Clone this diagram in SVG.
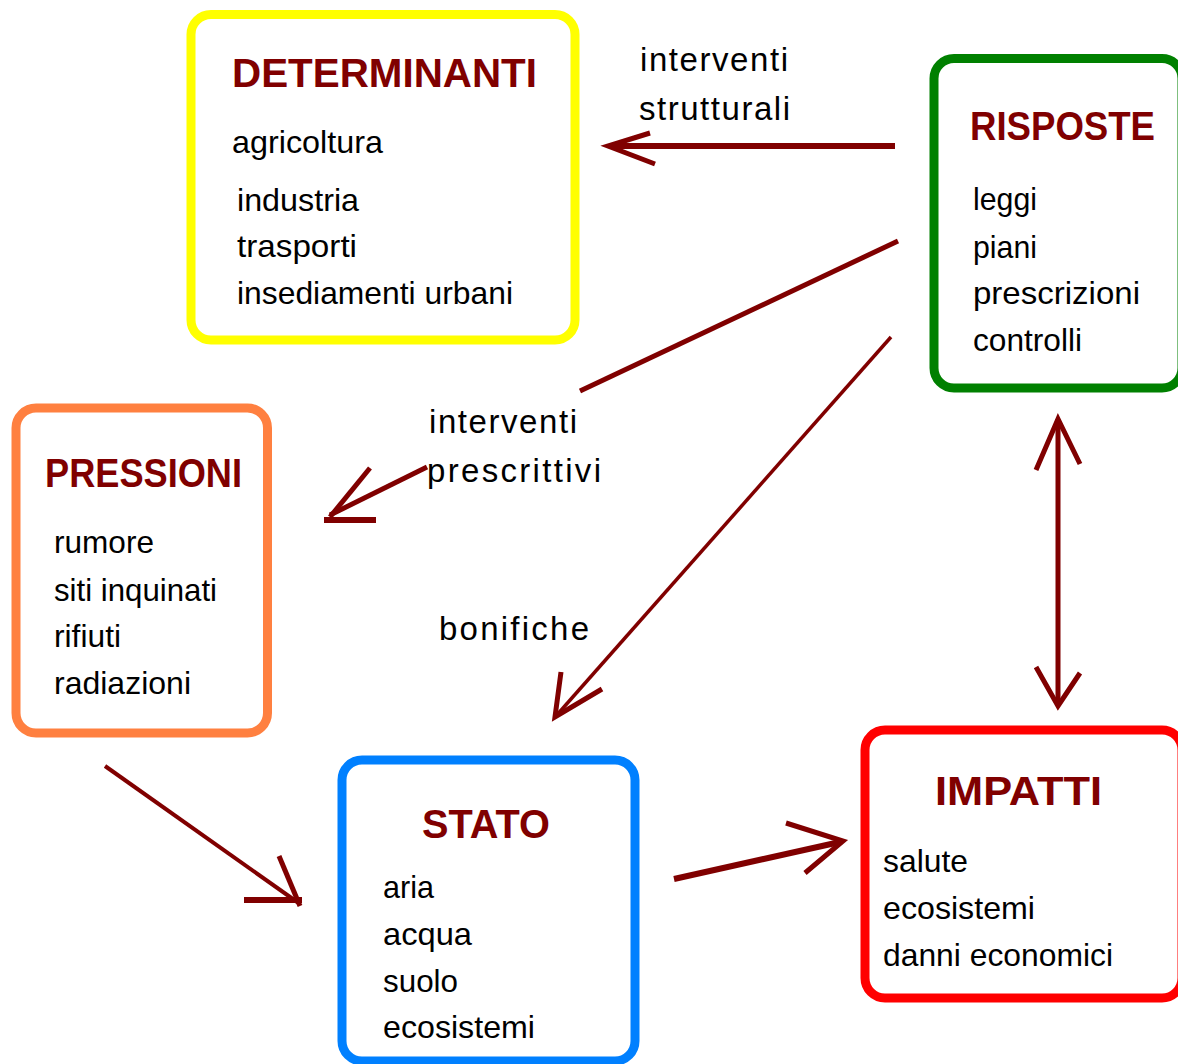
<svg xmlns="http://www.w3.org/2000/svg" width="1178" height="1064" viewBox="0 0 1178 1064">
  <style>
    .box { fill: #ffffff; stroke-width: 9; }
    .title { font-family: "Liberation Sans", Arial, sans-serif; font-weight: bold; font-size: 40px; fill: #800000; }
    .item { font-family: "Liberation Sans", Arial, sans-serif; font-size: 32px; fill: #000000; }
    .label { font-family: "Liberation Sans", Arial, sans-serif; font-size: 33px; fill: #000000; }
    .arrow { fill: none; stroke: #800000; stroke-linecap: butt; stroke-linejoin: miter; }
  </style>
  <rect width="1178" height="1064" fill="#ffffff"/>

  <!-- connectors -->
  <g id="connectors">
    <!-- RISPOSTE -> DETERMINANTI -->
    <g id="arrow-risposte-determinanti">
      <line class="arrow" stroke-width="6" x1="895" y1="146" x2="612" y2="146"/>
      <polyline class="arrow" stroke-width="5" points="650,133 608,146 655,164"/>
    </g>
    <!-- RISPOSTE -> PRESSIONI (interrupted by its label) -->
    <g id="arrow-risposte-pressioni">
      <line class="arrow" stroke-width="5" x1="898" y1="241" x2="580" y2="391"/>
      <line class="arrow" stroke-width="5" x1="427" y1="467" x2="330" y2="515"/>
      <line class="arrow" stroke-width="6" x1="324" y1="520" x2="376" y2="520"/>
      <line class="arrow" stroke-width="5" x1="370" y1="468" x2="330" y2="517"/>
    </g>
    <!-- RISPOSTE -> STATO -->
    <g id="arrow-risposte-stato">
      <line class="arrow" stroke-width="3.5" x1="891" y1="337" x2="556" y2="716"/>
      <polyline class="arrow" stroke-width="5" points="561,672 555,717 602,689"/>
    </g>
    <!-- RISPOSTE <-> IMPATTI -->
    <g id="arrow-risposte-impatti">
      <line class="arrow" stroke-width="5" x1="1058" y1="419" x2="1058" y2="706"/>
      <polyline class="arrow" stroke-width="5" points="1036,470 1058,419 1080,464"/>
      <polyline class="arrow" stroke-width="5" points="1036,667 1058,706 1080,673"/>
    </g>
    <!-- PRESSIONI -> STATO -->
    <g id="arrow-pressioni-stato">
      <line class="arrow" stroke-width="4" x1="105" y1="766" x2="300" y2="904"/>
      <line class="arrow" stroke-width="6" x1="244" y1="900" x2="302" y2="900"/>
      <line class="arrow" stroke-width="5" x1="279" y1="856" x2="300" y2="906"/>
    </g>
    <!-- STATO -> IMPATTI -->
    <g id="arrow-stato-impatti">
      <line class="arrow" stroke-width="6" x1="674" y1="879" x2="840" y2="842"/>
      <polyline class="arrow" stroke-width="5" points="786,823 843,841 805,873"/>
    </g>
  </g>

  <!-- connector labels -->
  <g id="labels">
    <text class="label" x="640" y="71" textLength="148" lengthAdjust="spacing">interventi</text>
    <text class="label" x="639" y="120" textLength="151" lengthAdjust="spacing">strutturali</text>
    <text class="label" x="429" y="433" textLength="148" lengthAdjust="spacing">interventi</text>
    <text class="label" x="427" y="482" textLength="174" lengthAdjust="spacing">prescrittivi</text>
    <text class="label" x="439" y="640" textLength="150" lengthAdjust="spacing">bonifiche</text>
  </g>

  <!-- nodes -->
  <g id="determinanti">
    <rect class="box" stroke="#ffff00" x="191" y="14.5" width="384" height="325.5" rx="20" ry="20"/>
    <text class="title" x="232" y="87" font-size="42" textLength="305" lengthAdjust="spacingAndGlyphs">DETERMINANTI</text>
    <text class="item" x="232" y="153" textLength="151" lengthAdjust="spacingAndGlyphs">agricoltura</text>
    <text class="item" x="237" y="211" textLength="122" lengthAdjust="spacingAndGlyphs">industria</text>
    <text class="item" x="237" y="257" textLength="120" lengthAdjust="spacingAndGlyphs">trasporti</text>
    <text class="item" x="237" y="304" textLength="276" lengthAdjust="spacingAndGlyphs">insediamenti urbani</text>
  </g>

  <g id="risposte">
    <rect class="box" stroke="#008000" x="934" y="58.5" width="248" height="329.5" rx="20" ry="20"/>
    <text class="title" x="970" y="140" font-size="39" textLength="185" lengthAdjust="spacingAndGlyphs">RISPOSTE</text>
    <text class="item" x="973" y="210" textLength="64" lengthAdjust="spacingAndGlyphs">leggi</text>
    <text class="item" x="973" y="258" textLength="64" lengthAdjust="spacingAndGlyphs">piani</text>
    <text class="item" x="973" y="304" textLength="167" lengthAdjust="spacingAndGlyphs">prescrizioni</text>
    <text class="item" x="973" y="351" textLength="109" lengthAdjust="spacingAndGlyphs">controlli</text>
  </g>

  <g id="pressioni">
    <rect class="box" stroke="#ff8040" x="16" y="408" width="251.5" height="325" rx="20" ry="20"/>
    <text class="title" x="45" y="487" font-size="38" textLength="197" lengthAdjust="spacingAndGlyphs">PRESSIONI</text>
    <text class="item" x="54" y="553" textLength="100" lengthAdjust="spacingAndGlyphs">rumore</text>
    <text class="item" x="54" y="601" textLength="163" lengthAdjust="spacingAndGlyphs">siti inquinati</text>
    <text class="item" x="54" y="647" textLength="67" lengthAdjust="spacingAndGlyphs">rifiuti</text>
    <text class="item" x="54" y="694" textLength="137" lengthAdjust="spacingAndGlyphs">radiazioni</text>
  </g>

  <g id="stato">
    <rect class="box" stroke="#0080ff" x="342" y="760" width="293" height="301" rx="20" ry="20"/>
    <text class="title" x="422" y="838" font-size="40" textLength="128" lengthAdjust="spacingAndGlyphs">STATO</text>
    <text class="item" x="383" y="898" textLength="51" lengthAdjust="spacingAndGlyphs">aria</text>
    <text class="item" x="383" y="945" textLength="89" lengthAdjust="spacingAndGlyphs">acqua</text>
    <text class="item" x="383" y="992" textLength="75" lengthAdjust="spacingAndGlyphs">suolo</text>
    <text class="item" x="383" y="1038" textLength="152" lengthAdjust="spacingAndGlyphs">ecosistemi</text>
  </g>

  <g id="impatti">
    <rect class="box" stroke="#ff0000" x="865" y="730" width="317" height="268" rx="20" ry="20"/>
    <text class="title" x="935" y="805" font-size="42" textLength="167" lengthAdjust="spacingAndGlyphs">IMPATTI</text>
    <text class="item" x="883" y="872" textLength="85" lengthAdjust="spacingAndGlyphs">salute</text>
    <text class="item" x="883" y="919" textLength="152" lengthAdjust="spacingAndGlyphs">ecosistemi</text>
    <text class="item" x="883" y="966" textLength="230" lengthAdjust="spacingAndGlyphs">danni economici</text>
  </g>
</svg>
